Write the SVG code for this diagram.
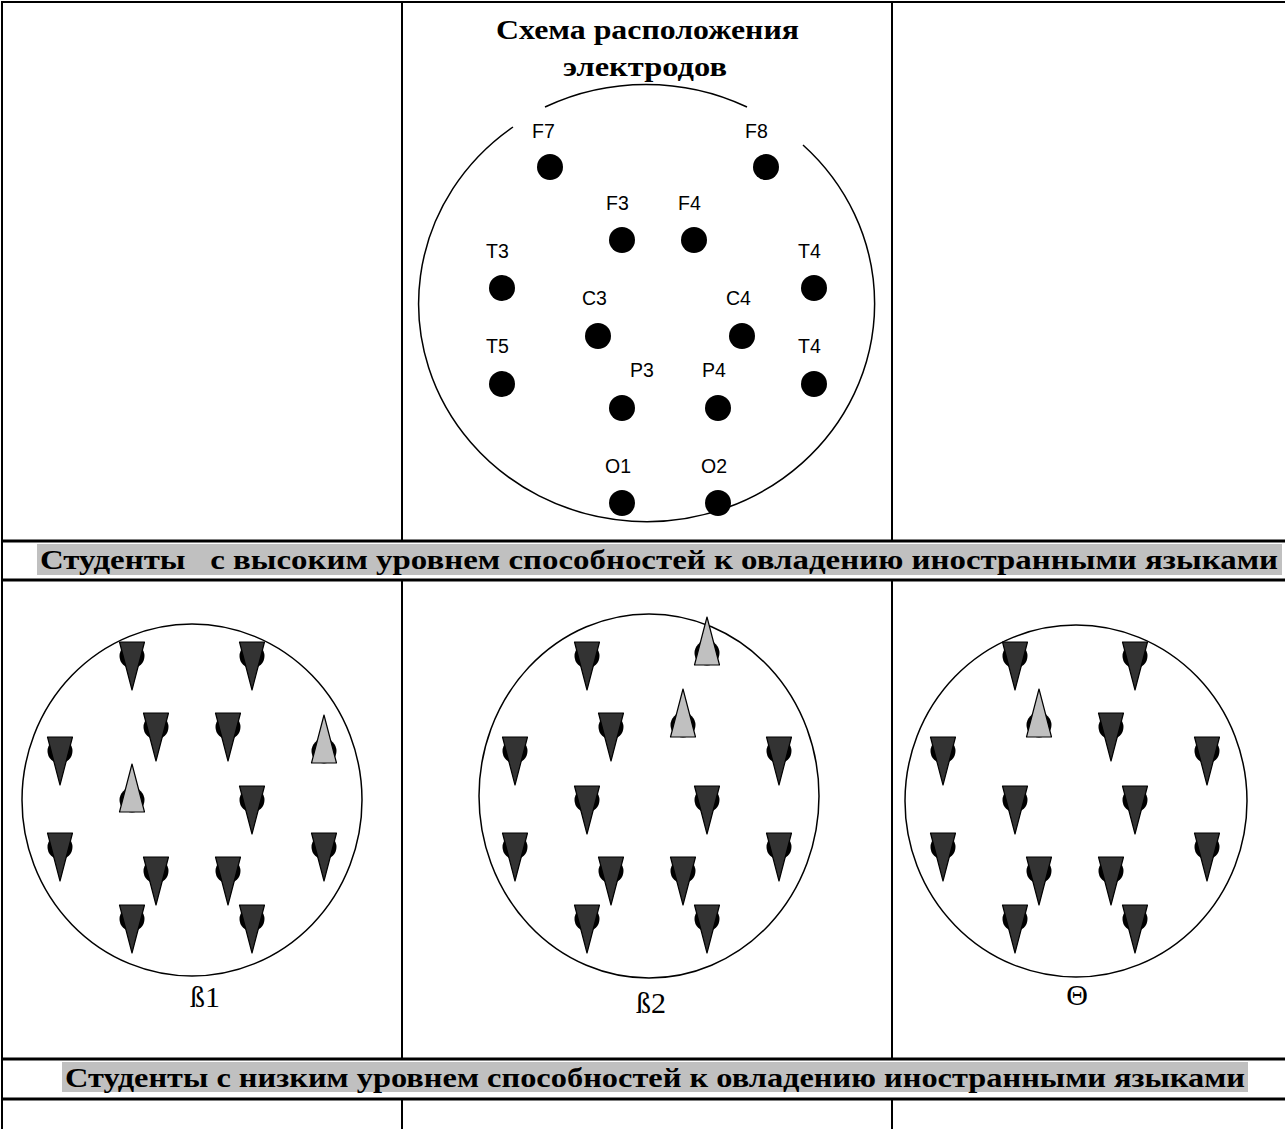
<svg xmlns="http://www.w3.org/2000/svg" xmlns:xlink="http://www.w3.org/1999/xlink" width="1285" height="1129" viewBox="0 0 1285 1129">
<style>
.grid{stroke:#000;stroke-width:2;fill:none}
.thick{stroke:#000;stroke-width:2.8;fill:none}
.head{fill:none;stroke:#000;stroke-width:1.5}
.dot{fill:#000}
.lbl{font-family:"Liberation Sans",Arial,sans-serif;font-size:19.5px;fill:#000}
.title{font-family:"Liberation Serif","Times New Roman",serif;font-weight:bold;font-size:27px;fill:#000}
.band{fill:#c0c0c0}
.bandtxt{font-family:"Liberation Serif","Times New Roman",serif;font-weight:bold;font-size:28px;fill:#000;white-space:pre}
.cap{font-family:"Liberation Serif","Times New Roman",serif;font-size:30px;fill:#000}
</style>
<defs>
<g id="dn">
<circle cx="0" cy="0" r="12.5" fill="#000"/>
<polygon points="-12.5,-14 12.5,-14 0,34" fill="#333" stroke="#000" stroke-width="1.2" stroke-linejoin="round"/>
</g>
<g id="up">
<circle cx="0" cy="0" r="12.5" fill="#000"/>
<polygon points="0,-36 12.5,12 -12.5,12" fill="#c0c0c0" stroke="#000" stroke-width="1.2" stroke-linejoin="round"/>
</g>
</defs>
<rect width="1285" height="1129" fill="#fff"/>

<g id="bands">
<rect class="band" x="37" y="544" width="1245" height="31"/>
<text class="bandtxt" x="40" y="569" textLength="1238" lengthAdjust="spacingAndGlyphs">Студенты   с высоким уровнем способностей к овладению иностранными языками</text>
<rect class="band" x="62" y="1062" width="1186" height="30"/>
<text class="bandtxt" x="65" y="1087" textLength="1180" lengthAdjust="spacingAndGlyphs">Студенты с низким уровнем способностей к овладению иностранными языками</text>
</g>

<g id="table">
<line class="grid" x1="2" y1="2" x2="1285" y2="2"/>
<line class="grid" x1="2" y1="1" x2="2" y2="1129"/>
<line class="grid" x1="402" y1="2" x2="402" y2="541"/>
<line class="grid" x1="892" y1="2" x2="892" y2="541"/>
<line class="thick" x1="1" y1="541" x2="1285" y2="541"/>
<line class="thick" x1="1" y1="580" x2="1285" y2="580"/>
<line class="grid" x1="402" y1="580" x2="402" y2="1059"/>
<line class="grid" x1="892" y1="580" x2="892" y2="1059"/>
<line class="thick" x1="1" y1="1059" x2="1285" y2="1059"/>
<line class="thick" x1="1" y1="1099" x2="1285" y2="1099"/>
<line class="grid" x1="402" y1="1099" x2="402" y2="1129"/>
<line class="grid" x1="892" y1="1099" x2="892" y2="1129"/>
</g>

<g id="scheme">
<text class="title" x="496" y="39" textLength="303" lengthAdjust="spacingAndGlyphs">Схема расположения</text>
<text class="title" x="563" y="76" textLength="164" lengthAdjust="spacingAndGlyphs">электродов</text>
<path class="head" d="M545,107 A228,218 0 0 1 747,107 M803,145 A228,218 0 1 1 513,127"/>
<g id="e-F7"><text class="lbl" x="532" y="138">F7</text><circle class="dot" cx="550" cy="167" r="13"/></g>
<g id="e-F8"><text class="lbl" x="745" y="138">F8</text><circle class="dot" cx="766" cy="167" r="13"/></g>
<g id="e-F3"><text class="lbl" x="606" y="210">F3</text><circle class="dot" cx="622" cy="240" r="13"/></g>
<g id="e-F4"><text class="lbl" x="678" y="210">F4</text><circle class="dot" cx="694" cy="240" r="13"/></g>
<g id="e-T3"><text class="lbl" x="486" y="258">T3</text><circle class="dot" cx="502" cy="288" r="13"/></g>
<g id="e-T4a"><text class="lbl" x="798" y="258">T4</text><circle class="dot" cx="814" cy="288" r="13"/></g>
<g id="e-C3"><text class="lbl" x="582" y="305">C3</text><circle class="dot" cx="598" cy="336" r="13"/></g>
<g id="e-C4"><text class="lbl" x="726" y="305">C4</text><circle class="dot" cx="742" cy="336" r="13"/></g>
<g id="e-T5"><text class="lbl" x="486" y="353">T5</text><circle class="dot" cx="502" cy="384" r="13"/></g>
<g id="e-T4b"><text class="lbl" x="798" y="353">T4</text><circle class="dot" cx="814" cy="384" r="13"/></g>
<g id="e-P3"><text class="lbl" x="630" y="377">P3</text><circle class="dot" cx="622" cy="408" r="13"/></g>
<g id="e-P4"><text class="lbl" x="702" y="377">P4</text><circle class="dot" cx="718" cy="408" r="13"/></g>
<g id="e-O1"><text class="lbl" x="605" y="473">O1</text><circle class="dot" cx="622" cy="503" r="13"/></g>
<g id="e-O2"><text class="lbl" x="701" y="473">O2</text><circle class="dot" cx="718" cy="503" r="13"/></g>
</g>

<g id="map-b1">
<ellipse class="head" cx="192" cy="800" rx="170" ry="176"/>
<use href="#dn" x="132" y="656"/><use href="#dn" x="252" y="656"/>
<use href="#dn" x="156" y="727"/><use href="#dn" x="228" y="727"/>
<use href="#dn" x="60" y="751"/><use href="#up" x="324" y="751"/>
<use href="#up" x="132" y="800"/><use href="#dn" x="252" y="800"/>
<use href="#dn" x="60" y="847"/><use href="#dn" x="324" y="847"/>
<use href="#dn" x="156" y="871"/><use href="#dn" x="228" y="871"/>
<use href="#dn" x="132" y="919"/><use href="#dn" x="252" y="919"/>
<text class="cap" x="190" y="1007">ß1</text>
</g>

<g id="map-b2">
<ellipse class="head" cx="649" cy="796" rx="170" ry="182"/>
<use href="#dn" x="587" y="656"/><use href="#up" x="707" y="653"/>
<use href="#dn" x="611" y="727"/><use href="#up" x="683" y="725"/>
<use href="#dn" x="515" y="751"/><use href="#dn" x="779" y="751"/>
<use href="#dn" x="587" y="800"/><use href="#dn" x="707" y="800"/>
<use href="#dn" x="515" y="847"/><use href="#dn" x="779" y="847"/>
<use href="#dn" x="611" y="871"/><use href="#dn" x="683" y="871"/>
<use href="#dn" x="587" y="919"/><use href="#dn" x="707" y="919"/>
<text class="cap" x="636" y="1013">ß2</text>
</g>

<g id="map-theta">
<ellipse class="head" cx="1076" cy="801" rx="171" ry="176"/>
<use href="#dn" x="1015" y="656"/><use href="#dn" x="1135" y="656"/>
<use href="#up" x="1039" y="725"/><use href="#dn" x="1111" y="727"/>
<use href="#dn" x="943" y="751"/><use href="#dn" x="1207" y="751"/>
<use href="#dn" x="1015" y="800"/><use href="#dn" x="1135" y="800"/>
<use href="#dn" x="943" y="847"/><use href="#dn" x="1207" y="847"/>
<use href="#dn" x="1039" y="871"/><use href="#dn" x="1111" y="871"/>
<use href="#dn" x="1015" y="919"/><use href="#dn" x="1135" y="919"/>
<text class="cap" x="1077" y="1005" text-anchor="middle">Θ</text>
</g>
</svg>
